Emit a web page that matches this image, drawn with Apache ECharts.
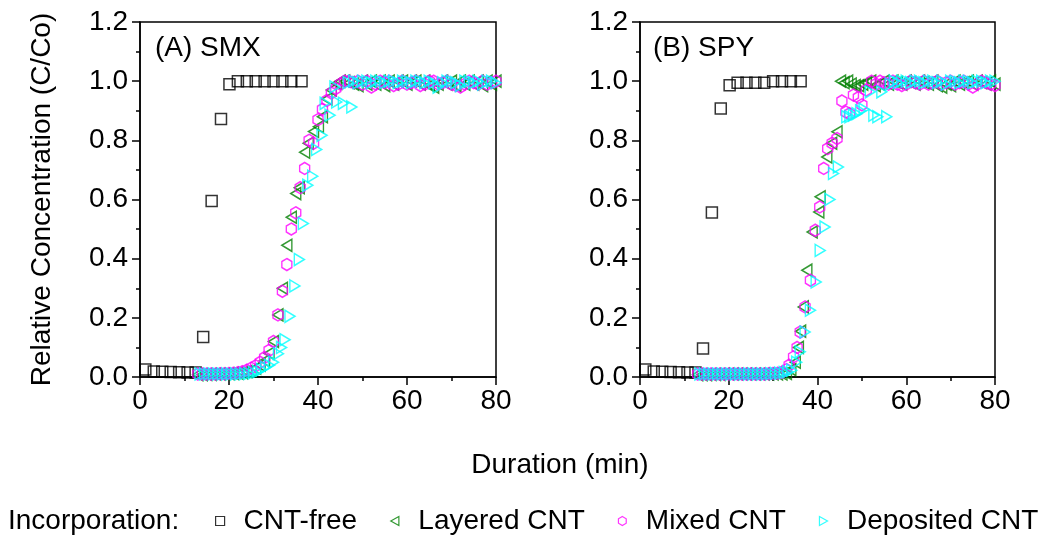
<!DOCTYPE html>
<html><head><meta charset="utf-8">
<script src="https://cdn.jsdelivr.net/npm/echarts@6/dist/echarts.min.js"></script>
<style>html,body{margin:0;padding:0;background:#fff}#c{width:1048px;height:540px}</style>
</head><body><div id="c"></div>
<script>
const seriesNames = ['CNT-free','Layered CNT','Mixed CNT','Deposited CNT'];
const panelTitles = ['(A) SMX','(B) SPY'];
const xAxisName = 'Duration (min)';
const yAxisName = 'Relative Concentration (C/Co)';
const legendLead = 'Incorporation:';

// Panel A (SMX): [minute, C/Co]
const smxFree = [[1.2,0.025],[3.1,0.019],[5.0,0.018],[6.9,0.017],[8.8,0.016],[10.7,0.015],[12.5,0.015],[14.2,0.135],[16.1,0.595],[18.2,0.872],[20.1,0.99],[22,1.0],[24,1.0],[26,1.0],[28,1.0],[30,1.0],[32,1.0],[34,1.0],[36.3,1.0]];
const smxLayered = [[13,0.008],[14,0.008],[15,0.009],[16,0.009],[17,0.01],[18,0.01],[19,0.01],[20,0.011],[21,0.012],[22,0.013],[23,0.015],[24,0.018],[25,0.022],[26,0.03],[27,0.04],[28,0.055],[29,0.08],[30,0.12],[31,0.21],[32,0.3],[33,0.445],[34,0.54],[35,0.62],[35.8,0.64],[37,0.76],[37.8,0.79],[39,0.83],[40.1,0.846],[41,0.88],[42,0.94],[43,0.97],[44.2,0.992],[45,1.0],[46,1.0],[47,0.995],[48,0.99],[49,0.985],[50,1.0],[51,0.99],[52,1.0],[53,0.99],[54,1.0],[55,0.985],[56,1.0],[57,0.99],[58,1.0],[59,1.0],[60,0.99],[61,1.0],[62,1.0],[63,0.99],[64,1.0],[65,0.985],[66,0.98],[67,0.99],[68,1.0],[69,0.99],[70,1.0],[71,0.985],[72,1.0],[73,0.99],[74,1.0],[75,0.99],[76,1.0],[77,0.985],[78,1.0],[79,0.99],[80,1.0]];
const smxMixed = [[13,0.01],[14,0.01],[15,0.01],[16,0.01],[17,0.01],[18,0.011],[19,0.011],[20,0.012],[21,0.013],[22,0.015],[23,0.018],[24,0.023],[25,0.03],[26,0.038],[27,0.05],[28,0.066],[29,0.09],[30,0.12],[31,0.21],[32,0.29],[33,0.38],[34,0.5],[35,0.555],[36,0.64],[37,0.705],[38,0.8],[39,0.79],[40,0.87],[41,0.905],[42,0.935],[43,0.96],[44,0.975],[45,0.99],[46,1.0],[47,1.0],[48,0.995],[49,1.0],[50,0.99],[51,1.0],[52,0.98],[53,0.99],[54,1.0],[55,0.995],[56,1.0],[57,0.985],[58,0.99],[59,1.0],[60,0.99],[61,0.995],[62,1.0],[63,0.985],[64,0.99],[65,1.0],[66,1.0],[67,0.99],[68,0.995],[69,1.0],[70,0.99],[71,0.985],[72,0.98],[73,0.99],[74,1.0],[75,0.995],[76,0.99],[77,1.0],[78,0.99],[79,0.995],[80,1.0]];
const smxDeposited = [[13.5,0.01],[14.5,0.01],[15.5,0.01],[16.5,0.01],[17.5,0.01],[18.5,0.01],[19.5,0.01],[20.5,0.01],[21.5,0.01],[22.5,0.01],[23.5,0.011],[24.5,0.012],[25.5,0.014],[26.5,0.018],[27.3,0.025],[28.2,0.032],[29.1,0.04],[30,0.05],[31.1,0.079],[31.8,0.1],[32.6,0.126],[33.7,0.205],[34.8,0.308],[35.8,0.397],[36.7,0.519],[37.7,0.648],[38.8,0.679],[39.7,0.769],[40.9,0.817],[41.6,0.925],[42.7,0.885],[43.8,0.98],[44.2,0.93],[45.7,0.925],[46.8,0.995],[47.6,0.913],[48,1.0],[49,0.995],[50,1.0],[51,1.0],[52,0.995],[53,1.0],[54,1.0],[55,0.995],[56,1.0],[57,1.0],[58,0.995],[59,1.0],[60,1.0],[61,0.995],[62,1.0],[63,1.0],[64,0.995],[65,1.0],[66,0.995],[67,0.98],[68,0.995],[69,1.0],[70,1.0],[71,0.995],[72,0.985],[73,1.0],[74,1.0],[75,0.995],[76,1.0],[77,0.99],[78,1.0],[79,1.0],[80,0.995]];

// Panel B (SPY)
const spyFree = [[1.2,0.025],[3.1,0.019],[5.0,0.018],[6.9,0.017],[8.8,0.016],[10.7,0.015],[12.5,0.015],[14.2,0.096],[16.2,0.556],[18.2,0.908],[20.2,0.986],[22,0.995],[24,0.995],[26,0.995],[28,0.995],[30,1.0],[32,1.0],[34,1.0],[36.2,1.0]];
const spyLayered = [[13,0.008],[14,0.008],[15,0.008],[16,0.009],[17,0.009],[18,0.009],[19,0.01],[20,0.01],[21,0.01],[22,0.01],[23,0.01],[24,0.01],[25,0.01],[26,0.01],[27,0.01],[28,0.01],[29,0.01],[30,0.01],[31,0.01],[32,0.01],[33,0.012],[34,0.025],[35,0.05],[35.7,0.1],[36.2,0.155],[36.8,0.237],[37.6,0.361],[38.8,0.49],[40.3,0.558],[40.6,0.609],[42.1,0.744],[43.2,0.79],[44.4,0.829],[45.2,1.0],[46,0.995],[46.8,1.0],[47.6,0.99],[48.5,0.985],[49.3,0.985],[50.2,0.99],[51,0.995],[52,1.0],[53,0.985],[54,0.99],[55,1.0],[56,0.99],[57,1.0],[58,0.995],[59,0.99],[60,1.0],[61,0.995],[62,0.99],[63,1.0],[64,0.995],[65,0.99],[66,1.0],[67,0.985],[68,0.98],[69,0.99],[70,0.985],[71,1.0],[72,0.99],[73,0.995],[74,1.0],[75,0.99],[76,1.0],[77,0.995],[78,0.99],[79,1.0],[80,0.99]];
const spyMixed = [[13,0.01],[14,0.01],[15,0.01],[16,0.01],[17,0.01],[18,0.01],[19,0.01],[20,0.01],[21,0.01],[22,0.01],[23,0.01],[24,0.01],[25,0.01],[26,0.01],[27,0.01],[28,0.01],[29,0.011],[30,0.012],[31,0.013],[32,0.016],[33,0.025],[33.6,0.04],[34.6,0.068],[35.4,0.1],[36.1,0.152],[37.2,0.237],[38.4,0.327],[39.5,0.496],[40.5,0.575],[41.4,0.705],[42.3,0.772],[43.3,0.79],[44.4,0.806],[45.5,0.933],[46.4,0.896],[47.2,0.89],[48.1,0.953],[49.2,0.945],[50,0.92],[51,0.97],[52.2,1.0],[53.2,0.99],[54.1,1.0],[55,0.995],[56,0.99],[57,1.0],[58,0.99],[59,0.985],[60,0.99],[61,1.0],[62,0.995],[63,0.99],[64,1.0],[65,0.99],[66,0.995],[67,1.0],[68,0.99],[69,0.995],[70,1.0],[71,0.99],[72,0.995],[73,1.0],[74,0.99],[75,0.98],[76,0.99],[77,1.0],[78,0.995],[79,0.99],[80,0.985]];
const spyDeposited = [[13.5,0.01],[14.5,0.01],[15.5,0.01],[16.5,0.01],[17.5,0.01],[18.5,0.01],[19.5,0.01],[20.5,0.01],[21.5,0.01],[22.5,0.01],[23.5,0.01],[24.5,0.01],[25.5,0.01],[26.5,0.01],[27.5,0.01],[28.5,0.01],[29.5,0.011],[30.5,0.012],[31.5,0.013],[32.5,0.015],[33.3,0.018],[34.2,0.023],[35.3,0.05],[36.1,0.085],[37.2,0.152],[38.4,0.226],[39.7,0.321],[40.6,0.428],[41.7,0.507],[42.8,0.6],[43.6,0.688],[44.7,0.71],[46.6,0.88],[47.3,0.88],[48.1,0.885],[48.9,0.89],[49.7,0.9],[50.5,0.905],[51.9,0.964],[52.7,0.885],[53.6,0.88],[54.5,0.964],[55.6,0.88],[56.4,0.99],[57.3,1.0],[58.2,0.995],[59,1.0],[60,1.0],[61,0.995],[62,1.0],[63,1.0],[64,0.995],[65,1.0],[66,1.0],[67,0.995],[68,1.0],[69,0.99],[70,1.0],[71,1.0],[72,0.995],[73,1.0],[74,1.0],[75,0.995],[76,1.0],[77,1.0],[78,0.995],[79,1.0],[80,1.0]];

const panelData = [[smxFree, smxLayered, smxMixed, smxDeposited],[spyFree, spyLayered, spyMixed, spyDeposited]];

const FONT = '"Liberation Sans", Arial, sans-serif';
const colors = ['#000000','#008000','#FF00FF','#00FFFF'];
const symbols = [
  'rect',
  'path://M0,5L9,0L9,10Z',
  'path://M5,0L9.33,2.5L9.33,7.5L5,10L0.67,7.5L0.67,2.5Z',
  'path://M0,0L9,5L0,10Z'
];
const symSizes = [[11,11],[10,12],[10,12],[10,12]];

const chart = echarts.init(document.getElementById('c'), null, {renderer:'canvas'});
const grids = [
  {left:140, top:22, width:356, height:355},
  {left:640, top:22, width:355, height:355}
];
const xAxes = grids.map((g,i)=>({
  type:'value', gridIndex:i, min:0, max:80, interval:20,
  axisLine:{show:true, onZero:false, lineStyle:{color:'#000', width:1.5}},
  axisTick:{show:true, inside:false, length:8, lineStyle:{color:'#000', width:1.5}},
  minorTick:{show:true, splitNumber:2, length:4, lineStyle:{color:'#000', width:1.5}},
  splitLine:{show:false},
  axisLabel:{fontSize:28, fontFamily:FONT, color:'#000', margin:10}
}));
const yAxes = grids.map((g,i)=>({
  type:'value', gridIndex:i, min:0, max:1.2, interval:0.2,
  name: i===0 ? yAxisName : '', nameLocation:'middle', nameGap:84,
  nameTextStyle:{fontSize:28, fontFamily:FONT, color:'#000'},
  axisLine:{show:true, onZero:false, lineStyle:{color:'#000', width:1.5}},
  axisTick:{show:true, inside:false, length:8, lineStyle:{color:'#000', width:1.5}},
  minorTick:{show:true, splitNumber:2, length:4, lineStyle:{color:'#000', width:1.5}},
  splitLine:{show:false},
  axisLabel:{fontSize:28, fontFamily:FONT, color:'#000', margin:12, formatter:v=>v.toFixed(1)}
}));
const series = [];
panelData.forEach((sets,pi)=>{
  sets.forEach((d,si)=>{
    series.push({
      type:'scatter', name:seriesNames[si], xAxisIndex:pi, yAxisIndex:pi,
      data:d, symbol:symbols[si], symbolSize:symSizes[si],
      itemStyle:{color:'rgba(0,0,0,0)', borderColor:colors[si], borderWidth:1.5},
      emphasis:{disabled:true}, animation:false
    });
  });
});
chart.setOption({
  animation:false,
  grid: grids.map(g=>Object.assign({show:true, borderColor:'#000', borderWidth:1.5, backgroundColor:'transparent', containLabel:false}, g)),
  xAxis:xAxes, yAxis:yAxes, series:series,
  legend:{
    left:210, top:502, itemWidth:9, itemHeight:9, itemGap:33, selectedMode:false,
    textStyle:{fontSize:28, fontFamily:FONT, color:'#000', padding:[0,0,0,14]},
    data: seriesNames.map((n,i)=>({name:n, icon:symbols[i], itemStyle:{color:'rgba(0,0,0,0)', borderColor:colors[i], borderWidth:1.2}}))
  },
  graphic:[
    {type:'text', left:155, top:34, style:{text:panelTitles[0], font:'28px '+FONT, fill:'#000'}},
    {type:'text', left:653, top:34, style:{text:panelTitles[1], font:'28px '+FONT, fill:'#000'}},
    {type:'text', x:560, y:465, style:{text:xAxisName, font:'28px '+FONT, fill:'#000', align:'center', verticalAlign:'middle'}},
    {type:'text', x:8, y:521, style:{text:legendLead, font:'28px '+FONT, fill:'#000', align:'left', verticalAlign:'middle'}}
  ]
});
</script></body></html>
